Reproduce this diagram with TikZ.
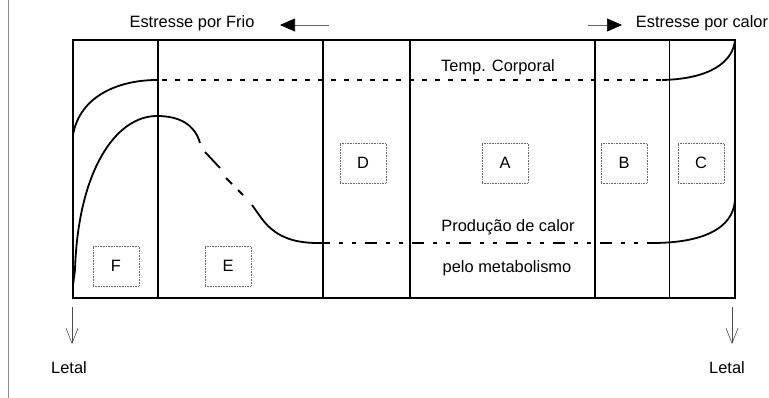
\documentclass[tikz,border=0pt]{standalone}
\usepackage{fontspec}
\setmainfont{Liberation Sans}
\usetikzlibrary{arrows.meta}
\tikzset{
  frame/.style={line width=1.8pt},
  divider/.style={line width=1.5pt},
  thindivider/.style={line width=0.9pt},
  curve/.style={line width=1.8pt},
  lbl/.style={font=\fontsize{16.4}{19}\selectfont, inner sep=0pt},
  letterbox/.style={draw=black!60, densely dotted, line width=0.6pt, minimum width=46pt, minimum height=40pt, inner sep=0pt, font=\fontsize{16.4}{19}\selectfont},
  templine/.style={line width=2.2pt, dash pattern=on 5pt off 8pt},
  heatline/.style={line width=2pt, dash pattern=on 12pt off 9pt on 4pt off 9pt on 4pt off 9pt},
  stressarrow/.style={black!60, line width=0.6pt, -{Triangle[length=15pt,width=13pt,fill=black,color=black]}},
  letalarrow/.style={black!70, line width=0.6pt, -{Straight Barb[length=15pt,width=12pt]}}
}
\begin{document}
\begin{tikzpicture}[x=1pt,y=-1pt]
\useasboundingbox (0,0) rectangle (769,398);
% scan edge line
\draw[black!45, line width=0.6pt] (8,0) -- (8,398);
% frame corners and dividers
\coordinate (tl) at (73,40);
\coordinate (br) at (735,298);
\draw[frame] (tl) rectangle (br);
\foreach \x/\n in {158/a,323/b,410/c,595/d}{
  \coordinate (top\n) at (\x,40);
  \coordinate (bot\n) at (\x,298);
  \draw[divider] (top\n) -- (bot\n);
}
\coordinate (tope) at (669,40);
\coordinate (bote) at (669,298);
\draw[thindivider] (tope) -- (bote);

% top labels and arrows
\node[lbl] (frio) at (192,23) {Estresse por Frio};
\coordinate (frioS) at (329,25);
\coordinate (frioE) at (280,25);
\draw[stressarrow] (frioS) -- (frioE);
\node[lbl] (calor) at (702,23) {Estresse por calor};
\coordinate (calorS) at (588,25);
\coordinate (calorE) at (622,25);
\draw[stressarrow] (calorS) -- (calorE);

% body temperature
\node[lbl] (temp) at (498,67) {Temp. Corporal};
\coordinate (t0) at (73,150);
\coordinate (t1) at (73,135);
\coordinate (t2) at (157,80);
\coordinate (t3) at (662,80);
\coordinate (t4) at (735,40);
\draw[curve] (t0) -- (t1) .. controls (80,95) and (120,80) .. (t2);
\draw[templine] (162,80) -- (t3);
\draw[curve] (t3) .. controls (710,79) and (733,62) .. (t4);

% heat production
\coordinate (h0) at (75,270);
\coordinate (h1) at (157,116);
\coordinate (h2) at (200,143);
\coordinate (h3) at (252,205);
\coordinate (h4) at (262,219);
\coordinate (h5) at (318,243);
\coordinate (h6) at (652,243);
\coordinate (h7) at (735,200);
\draw[curve] (73,298) -- (73,285) -- (h0) .. controls (78,172) and (115,116) .. (h1)
   .. controls (180,116) and (195,125) .. (h2);
\draw[curve] (205,152) -- (220,168);
\draw[curve] (226,178) -- (232,184);
\draw[curve] (238,190) -- (243,195);
\draw[curve] (h3) -- (h4) .. controls (275,236) and (292,243) .. (h5);
\draw[heatline] (h5) -- (h6);
\draw[curve] (h6) .. controls (700,243) and (733,230) .. (h7);
\node[lbl] (prod) at (508,227) {Produção de calor};
\node[lbl] (meta) at (507,268) {pelo metabolismo};

% zone letters
\node[letterbox] (D) at (363,163) {D};
\node[letterbox] (A) at (505,163) {A};
\node[letterbox] (B) at (624,163) {B};
\node[letterbox] (C) at (701,163) {C};
\node[letterbox] (F) at (116,266) {F};
\node[letterbox] (E) at (228,266) {E};

% lethal arrows
\coordinate (l1s) at (72,307);
\coordinate (l1e) at (72,344);
\draw[letalarrow] (l1s) -- (l1e);
\node[lbl] (letal1) at (69,368) {Letal};
\coordinate (l2s) at (732,307);
\coordinate (l2e) at (732,344);
\draw[letalarrow] (l2s) -- (l2e);
\node[lbl] (letal2) at (727,368) {Letal};
\end{tikzpicture}
\end{document}
